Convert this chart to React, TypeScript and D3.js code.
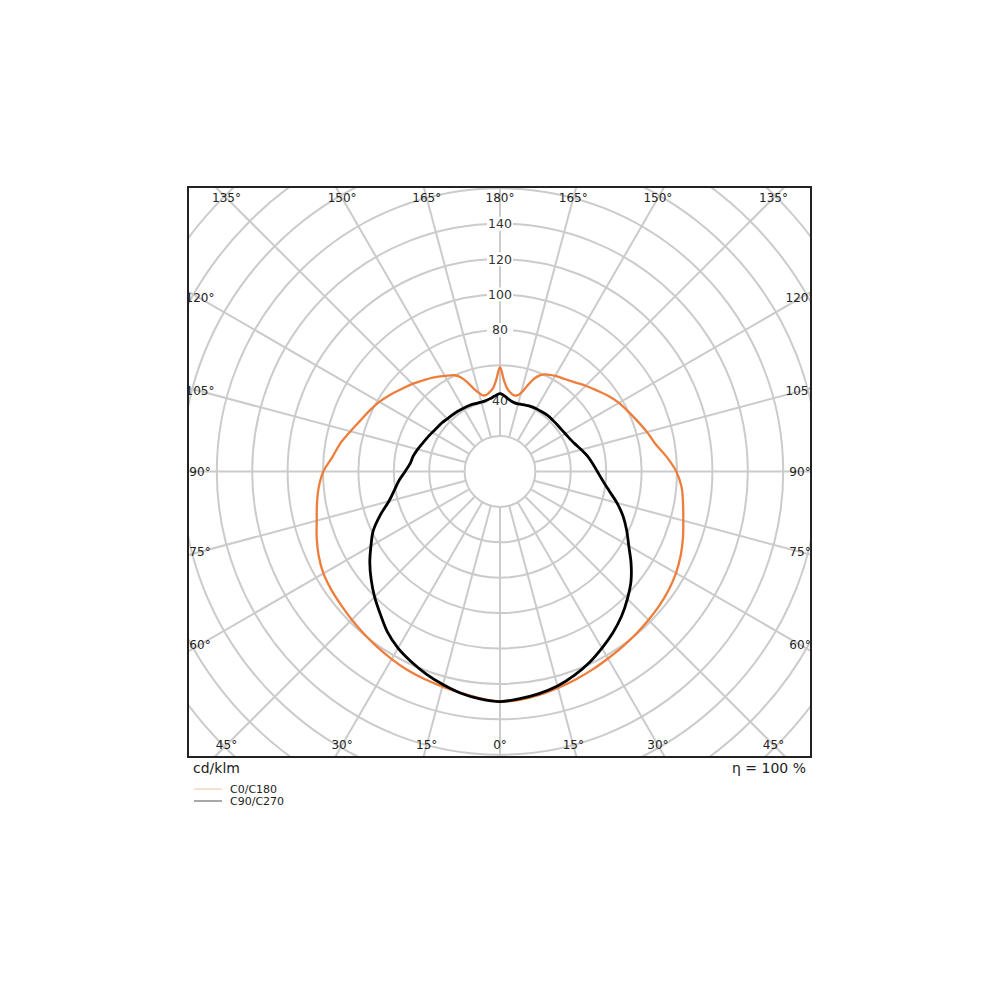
import * as d3 from "d3";

// luminous intensity, cd/klm, per gamma angle (0 = straight down)
const GAMMA = [
    0, 5, 10, 15, 20, 25, 30, 35, 40, 45, 50, 55, 60, 65, 70, 75, 80, 85, 90, 95,
    100, 105, 110, 115, 120, 125, 130, 135, 140, 145, 150, 155,
    157.5, 160, 162.5, 165, 167.5, 170, 172.5, 175, 177.5, 180,
];
const C0 = [
    130, 129.5, 128.2, 126.6, 125, 123.5, 122, 120.8, 119.7, 118.6, 117.6, 116.4, 114.8, 112.6, 110, 107.2, 105, 103, 99.6, 94.5,
    89.2, 86, 82.8, 80, 77.6, 74.5, 71.3, 68.5, 65.8, 63.8, 62.4, 60.6,
    58.8, 55.5, 50.5, 46, 44, 43.8, 45, 47, 51.5, 59,
];
const C180 = [
    130, 128.6, 127, 125.8, 124.8, 123.8, 122.4, 121, 119.6, 118.4, 117.3, 116.4, 115.2, 113, 110.2, 107.2, 105, 102.8, 99.8, 95,
    91.6, 87.5, 84, 81.3, 78.7, 75.6, 72.5, 70, 67.3, 65, 62.4, 60,
    57.5, 53.5, 49, 46, 44, 44, 45.2, 47, 51.5, 59,
];
const C90 = [
    130, 128.8, 127.4, 125.5, 122.6, 119.2, 115.2, 111.2, 106.8, 101.8, 96.6, 90.4, 84, 79, 74, 68.4, 62.6, 58.2, 55, 52.5,
    50.2, 47.6, 45.2, 43.6, 42.6, 42, 41.7, 41.6, 41.5, 41.2, 41, 40.6,
    40.3, 40, 39.8, 39.5, 39.6, 40, 40.8, 42, 43.2, 44,
];
const C270 = [
    130, 129, 127.2, 124.6, 121.8, 118.6, 115.2, 110.8, 105.2, 100.2, 95, 89.8, 84.2, 79, 72, 65, 60.6, 57.2, 53.6, 51,
    49.8, 48.2, 46.6, 45.3, 44.2, 43.3, 42.8, 42.1, 41.8, 41.6, 41.3, 41.1,
    41, 40.8, 40.7, 40.6, 40.7, 41, 41.6, 42.4, 43.3, 44,
];

const RINGS = [ 20, 40, 60, 80, 100, 120, 140, 160, 180, 200, 220, 240 ];
const RADIAL_LABELS = [ 40, 80, 100, 120, 140 ];
const ANGLE_LABELS = [ 0, 15, 30, 45, 60, 75, 90, 105, 120, 135, 150, 165, 180 ];

const SERIES = [
    { label: "C0/C180", right: C0, left: C180, color: "#ee7d3b", width: 2.3, legend: "#f6d5c0" },
    { label: "C90/C270", right: C90, left: C270, color: "#000000", width: 2.8, legend: "#8a8a8a" },
];

const FONT = "DejaVu Sans, sans-serif";

export default function App ()
{
    const box = { x0: 188, y0: 187, x1: 811, y1: 757 };
    const cx = 500, cy = 471.5;
    const r = d3.scaleLinear().domain( [ 0, 100 ] ).range( [ 0, 177 ] );
    const rad = Math.PI / 180;

    const line = d3.lineRadial<[ number, number ]>()
        .angle( ( d ) => d[ 0 ] )
        .radius( ( d ) => d[ 1 ] )
        .curve( d3.curveCatmullRomClosed.alpha( 0.5 ) );

    const loop = ( right: number[], left: number[] ) =>
    {
        const pts: [ number, number ][] = GAMMA.map( ( g, i ) => [ Math.PI - g * rad, r( right[ i ] ) ] );
        for ( let i = GAMMA.length - 2; i >= 1; i-- ) pts.push( [ Math.PI + GAMMA[ i ] * rad, r( left[ i ] ) ] );
        return line( pts ) || "";
    };

    // spokes every 15°, from the inner ring outwards
    const spokes = d3.range( 0, 360, 15 ).map( ( a ) =>
    {
        const dx = Math.sin( a * rad ), dy = Math.cos( a * rad );
        return { x1: cx + dx * r( 20 ), y1: cy + dy * r( 20 ), x2: cx + dx * 700, y2: cy + dy * 700 };
    } );

    // angle labels sit where the spoke meets a rectangle inset from the frame
    const halfW = 300, halfH = 273.5;
    const angleLabels: { x: number; y: number; t: string }[] = [];
    ANGLE_LABELS.forEach( ( g ) =>
    {
        const sides = g === 0 || g === 180 ? [ 1 ] : [ -1, 1 ];
        sides.forEach( ( s ) =>
        {
            const dx = s * Math.sin( g * rad ), dy = Math.cos( g * rad );
            const t = Math.min( Math.abs( dx ) > 1e-6 ? halfW / Math.abs( dx ) : Infinity, Math.abs( dy ) > 1e-6 ? halfH / Math.abs( dy ) : Infinity );
            angleLabels.push( { x: cx + dx * t, y: cy + dy * t, t: `${ g }°` } );
        } );
    } );

    return (
        <svg width={ 1000 } height={ 1000 } style={ { position: "absolute", left: 0, top: 0, background: "#fff" } } fontFamily={ FONT }>
            <defs>
                <clipPath id="frame">
                    <rect x={ box.x0 } y={ box.y0 } width={ box.x1 - box.x0 } height={ box.y1 - box.y0 } />
                </clipPath>
            </defs>
            <rect width={ 1000 } height={ 1000 } fill="#fff" />

            <g clipPath="url(#frame)">
                {/* Grid */ }
                { RINGS.map( ( v ) => (
                    <circle key={ v } cx={ cx } cy={ cy } r={ r( v ) } fill="none" stroke="#cbcbcb" strokeWidth={ 2 } />
                ) ) }
                { spokes.map( ( s, i ) => (
                    <line key={ i } x1={ s.x1 } y1={ s.y1 } x2={ s.x2 } y2={ s.y2 } stroke="#cbcbcb" strokeWidth={ 2 } />
                ) ) }

                {/* Angle labels */ }
                { angleLabels.map( ( l, i ) => (
                    <text key={ i } x={ l.x } y={ l.y } textAnchor="middle" dominantBaseline="central" fontSize={ 12 } fill="#222">{ l.t }</text>
                ) ) }

                {/* Radial labels */ }
                { RADIAL_LABELS.map( ( v ) => (
                    <g key={ v }>
                        <rect x={ cx - 13 } y={ cy - r( v ) - 7 } width={ 26 } height={ 14 } fill="#fff" />
                        <text x={ cx } y={ cy - r( v ) } textAnchor="middle" dominantBaseline="central" fontSize={ 12.5 } fill="#333">{ v }</text>
                    </g>
                ) ) }

                {/* Curves */ }
                { SERIES.map( ( s ) => (
                    <path key={ s.label } transform={ `translate(${ cx },${ cy })` } d={ loop( s.right, s.left ) }
                        fill="none" stroke={ s.color } strokeWidth={ s.width } strokeLinejoin="round" />
                ) ) }
            </g>

            <rect x={ box.x0 } y={ box.y0 } width={ box.x1 - box.x0 } height={ box.y1 - box.y0 } fill="none" stroke="#222" strokeWidth={ 2 } />

            <text x={ 193 } y={ 773 } fontSize={ 14 } fill="#222">cd/klm</text>
            <text x={ 806 } y={ 773 } fontSize={ 14 } fill="#222" textAnchor="end">η = 100 %</text>

            {/* Legend */ }
            { SERIES.map( ( s, i ) => (
                <g key={ s.label } transform={ `translate(194,${ 789 + i * 12 })` }>
                    <line x1={ 0 } x2={ 28 } y1={ 0 } y2={ 0 } stroke={ s.legend } strokeWidth={ 1.5 } />
                    <text x={ 36 } y={ 0 } dominantBaseline="central" fontSize={ 11 } fill="#222">{ s.label }</text>
                </g>
            ) ) }
        </svg>
    );
}
